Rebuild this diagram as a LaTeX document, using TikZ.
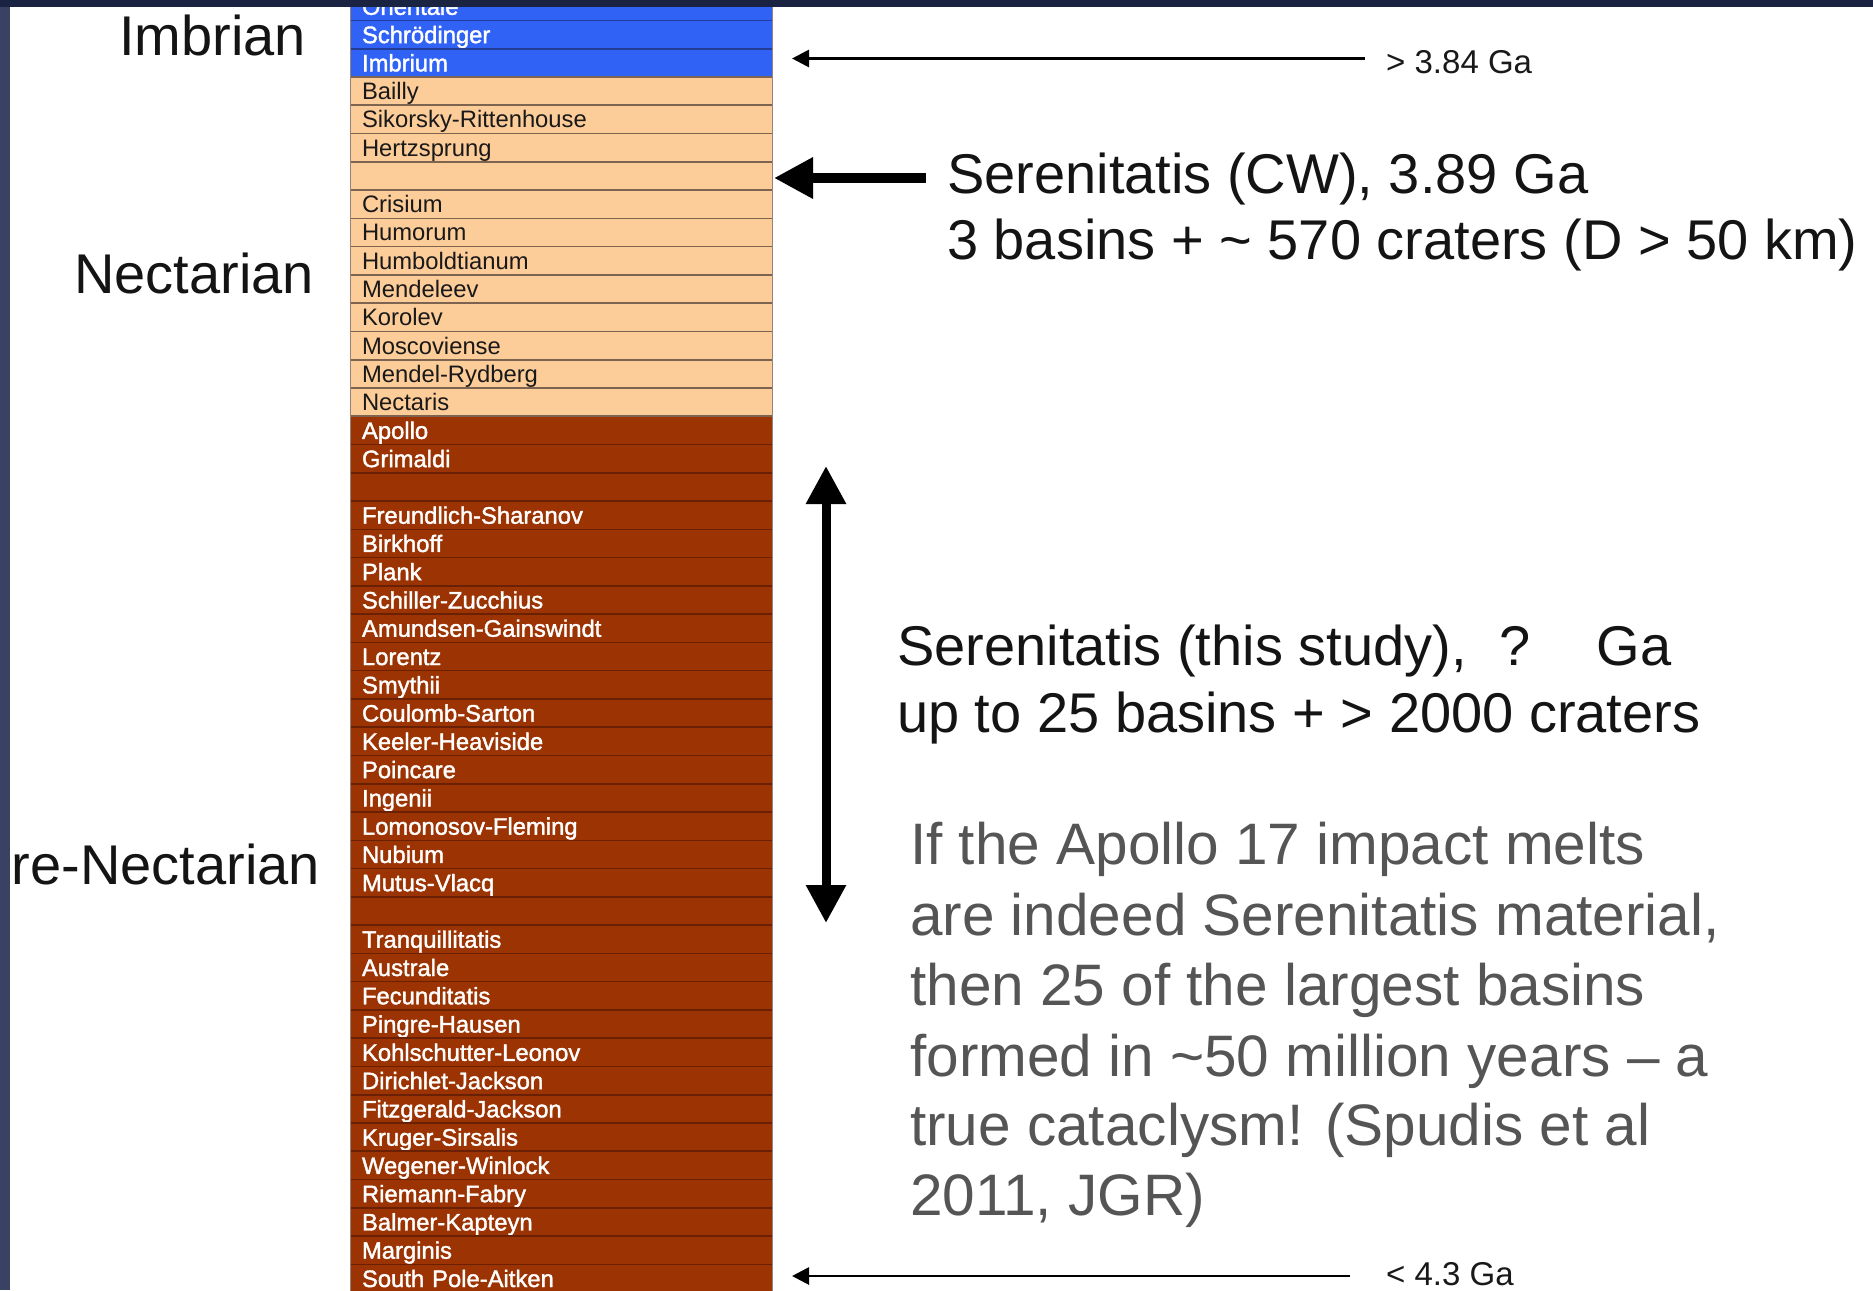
\documentclass[tikz,border=0pt]{standalone}
\usepackage{fontspec}
\setmainfont{Liberation Sans}
\newfontfamily\rowwhite[FakeBold=1.6]{Liberation Sans}
\usetikzlibrary{arrows.meta}

\definecolor{imbblue}{RGB}{47,98,245}
\definecolor{necpeach}{RGB}{252,204,153}
\definecolor{prerust}{RGB}{155,51,2}
\definecolor{sepblue}{RGB}{35,60,150}
\definecolor{seppeach}{RGB}{125,100,80}
\definecolor{seprust}{RGB}{105,32,4}
\definecolor{coledge}{RGB}{150,130,120}
\definecolor{paragray}{RGB}{85,85,85}
\definecolor{framenavy}{RGB}{27,35,66}
\definecolor{frameslate}{RGB}{58,66,100}

\tikzset{
  rowbase/.style={anchor=north west, minimum height=28.27pt, text width=398pt,
    inner xsep=12pt, inner ysep=0pt, outer sep=0pt, align=left,
    text height=17pt, text depth=0pt},
  imbrow/.style={rowbase, fill=imbblue, text=white, font=\rowwhite\fontsize{23.8}{24}\selectfont},
  necrow/.style={rowbase, fill=necpeach, text=black!90, font=\fontsize{23.8}{24}\selectfont},
  prerow/.style={rowbase, fill=prerust, text=white, font=\rowwhite\fontsize{23.8}{24}\selectfont},
  period/.style={inner sep=0pt, text=black!92, font=\fontsize{56}{60}\selectfont},
  bigtxt/.style={inner sep=0pt, anchor=base west, text=black!92, font=\fontsize{56}{60}\selectfont},
  paratxt/.style={inner sep=0pt, anchor=base west, text=paragray, font=\fontsize{58.5}{62}\selectfont},
  agetxt/.style={inner sep=0pt, anchor=base west, text=black!90, font=\fontsize{33}{36}\selectfont},
  thinarrow/.style={line width=2.8pt, -{Triangle[length=17pt,width=17pt]}},
  thickarrow/.style={line width=9.5pt, -{Triangle[length=39pt,width=39pt]}},
  bothhead/.style={line width=9pt, {Triangle[length=38pt,width=38pt]}-{Triangle[length=38pt,width=38pt]}}
}

\begin{document}
\begin{tikzpicture}[x=1pt, y=-1pt]
  \useasboundingbox (0,0) rectangle (1873,1290);
  \clip (0,0) rectangle (1873,1290);
  \fill[white] (0,0) rectangle (1873,1290);

  % stratigraphic column of basins, youngest at the top
  \foreach \nm [count=\i from 0] in {Orientale, Schrödinger, Imbrium, Bailly,
      Sikorsky-Rittenhouse, Hertzsprung, {}, Crisium, Humorum, Humboldtianum,
      Mendeleev, Korolev, Moscoviense, Mendel-Rydberg, Nectaris, Apollo, Grimaldi,
      {}, Freundlich-Sharanov, Birkhoff, Plank, Schiller-Zucchius,
      Amundsen-Gainswindt, Lorentz, Smythii, Coulomb-Sarton, Keeler-Heaviside,
      Poincare, Ingenii, Lomonosov-Fleming, Nubium, Mutus-Vlacq, {},
      Tranquillitatis, Australe, Fecunditatis, Pingre-Hausen, Kohlschutter-Leonov,
      Dirichlet-Jackson, Fitzgerald-Jackson, Kruger-Sirsalis, Wegener-Winlock,
      Riemann-Fabry, Balmer-Kapteyn, Marginis, South Pole-Aitken} {
    \ifnum\i<3 \def\rowkind{imbrow}\else\ifnum\i<15 \def\rowkind{necrow}\else\def\rowkind{prerow}\fi\fi
    \node[\rowkind] (r\i) at (350,{-7.8+\i*28.27}) {\nm};
  }

  % row separators
  \foreach \i in {1,...,45} {
    \ifnum\i<3 \def\sepcol{sepblue}\else\ifnum\i<16 \def\sepcol{seppeach}\else\def\sepcol{seprust}\fi\fi
    \draw[\sepcol, line width=1.6pt] (r\i.north west) -- (r\i.north east);
  }
  \draw[coledge, line width=1pt] (r0.north west) -- (r45.south west);
  \draw[coledge, line width=1pt] (r0.north east) -- (r45.south east);

  % period names
  \node[period, anchor=base west] (imbrian) at (119,56) {Imbrian};
  \node[period, anchor=base west] (nectarian) at (74,293) {Nectarian};
  \node[period, anchor=base east] (prenectarian) at (320,884) {Pre-Nectarian};

  % age bounds
  \node[agetxt] (youngbound) at (1386,74) {> 3.84 Ga};
  \coordinate (youngstart) at (1365,58.5);
  \coordinate (youngtip) at (792,58.5);
  \draw[thinarrow] (youngstart) -- (youngtip);

  \node[agetxt] (oldbound) at (1386,1285) {< 4.3 Ga};
  \coordinate (oldstart) at (1350,1276);
  \coordinate (oldtip) at (792,1276);
  \draw[thinarrow] (oldstart) -- (oldtip);

  % classic Serenitatis placement
  \node[bigtxt] (cwone) at (947,193) {Serenitatis (CW), 3.89 Ga};
  \node[bigtxt] (cwtwo) at (947,259) {3 basins + \textasciitilde{} 570 craters (D > 50 km)};
  \coordinate (cwstart) at (926,178);
  \coordinate (cwtip) at (774,178);
  \draw[thickarrow] (cwstart) -- (cwtip);

  % range of the new placement
  \coordinate (rangetop) at (826,466);
  \coordinate (rangebot) at (826,923);
  \draw[bothhead] (rangetop) -- (rangebot);
  \node[bigtxt] (studyone) at (897,665) {Serenitatis (this study),\hspace{33pt}?\hspace{66pt}Ga};
  \node[bigtxt] (studytwo) at (897,732) {up to 25 basins + > 2000 craters};

  % remark
  \node[paratxt] (pone) at (910,864) {If the Apollo 17 impact melts};
  \node[paratxt] (ptwo) at (910,935) {are indeed Serenitatis material,};
  \node[paratxt] (pthree) at (910,1005) {then 25 of the largest basins};
  \node[paratxt] (pfour) at (910,1076) {formed in \textasciitilde50 million years – a};
  \node[paratxt] (pfive) at (910,1145) {true cataclysm! (Spudis et al};
  \node[paratxt] (psix) at (910,1215) {2011, JGR)};

  % slide frame
  \fill[frameslate] (0,0) rectangle (10,1290);
  \fill[framenavy] (0,0) rectangle (1873,7);
\end{tikzpicture}
\end{document}
